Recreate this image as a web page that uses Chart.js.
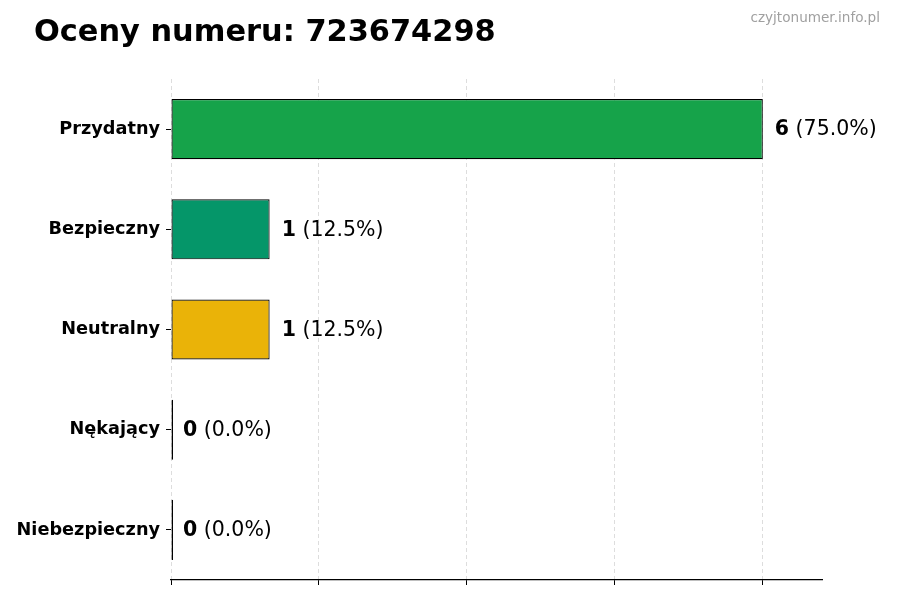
<!DOCTYPE html>
<html lang="pl">
<head>
  <meta charset="UTF-8">
  <title>Oceny numeru</title>
  <script src="https://cdn.jsdelivr.net/npm/chart.js@4.4.1/dist/chart.umd.min.js"></script>
  <style>
    html, body { margin: 0; padding: 0; background: #fff; }
    .wrap { width: 900px; height: 600px; }
  </style>
</head>
<body>
  <div class="wrap"><canvas id="chart" width="900" height="600"></canvas></div>
  <script>
    const categories = ['Przydatny', 'Bezpieczny', 'Neutralny', 'Nękający', 'Niebezpieczny'];
    const counts = [6, 1, 1, 0, 0];
    const barColors = ['#16a34a', '#059669', '#eab308', '#dc2626', '#991b1b'];
    const xTicks = [0, 1.5, 3, 4.5, 6];
    const titleText = 'Oceny numeru: 723674298';
    const watermark = 'czyjtonumer.info.pl';

    const total = counts.reduce((a, b) => a + b, 0);
    const FONT = '"DejaVu Sans", sans-serif';

    // title, watermark and the "n (x%)" labels next to bars
    const extras = {
      id: 'extras',
      afterDraw(chart) {
        const ctx = chart.ctx;
        ctx.save();
        ctx.fillStyle = '#000';
        ctx.font = 'bold 30.4px ' + FONT;
        ctx.textAlign = 'left';
        ctx.textBaseline = 'alphabetic';
        ctx.fillText(titleText, 34, 41);

        ctx.fillStyle = '#a0a0a0';
        ctx.font = '13.6px ' + FONT;
        ctx.textAlign = 'right';
        ctx.fillText(watermark, 880, 22);

        ctx.textAlign = 'left';
        ctx.textBaseline = 'middle';
        const meta = chart.getDatasetMeta(0);
        meta.data.forEach((bar, i) => {
          const v = counts[i];
          const pct = total ? (v / total * 100).toFixed(1) : '0.0';
          const x0 = chart.scales.x.getPixelForValue(v) + 12;
          const y = bar.y + 1;
          ctx.fillStyle = '#000';
          ctx.font = 'bold 20.5px ' + FONT;
          const num = String(v);
          ctx.fillText(num, x0, y);
          const w = ctx.measureText(num).width;
          ctx.font = '20.5px ' + FONT;
          ctx.fillText(' (' + pct + '%)', x0 + w, y);
        });
        ctx.restore();
      }
    };

    new Chart(document.getElementById('chart'), {
      type: 'bar',
      data: {
        labels: categories,
        datasets: [{
          data: counts,
          backgroundColor: barColors,
          borderColor: '#000',
          borderWidth: 1.2,
          borderSkipped: false,
          minBarLength: 2,
          barPercentage: 0.6,
          categoryPercentage: 1.0
        }]
      },
      options: {
        indexAxis: 'y',
        responsive: false,
        animation: false,
        layout: { padding: { top: 79, right: 78, bottom: 0, left: 10 } },
        plugins: {
          legend: { display: false },
          tooltip: { enabled: false }
        },
        scales: {
          x: {
            min: 0,
            max: 6.6,
            z: 1,
            afterBuildTicks: s => { s.ticks = xTicks.map(v => ({ value: v })); },
            afterFit: s => { s.height = 20; },
            ticks: { callback: () => '', padding: 0 },
            grid: {
              color: 'rgba(180,180,180,0.45)',
              lineWidth: 1,
              tickColor: '#000',
              tickLength: 5,
              tickBorderDash: []
            },
            border: { display: true, color: '#000', width: 1.2, dash: [4, 3] }
          },
          y: {
            afterFit: s => { s.width = 161; },
            ticks: {
              color: '#000',
              font: { family: FONT, size: 17.7, weight: 'bold' },
              padding: 6
            },
            grid: {
              offset: false,
              drawOnChartArea: false,
              tickColor: '#000',
              tickLength: 5
            },
            border: { display: false }
          }
        }
      },
      plugins: [extras]
    });
  </script>
</body>
</html>
